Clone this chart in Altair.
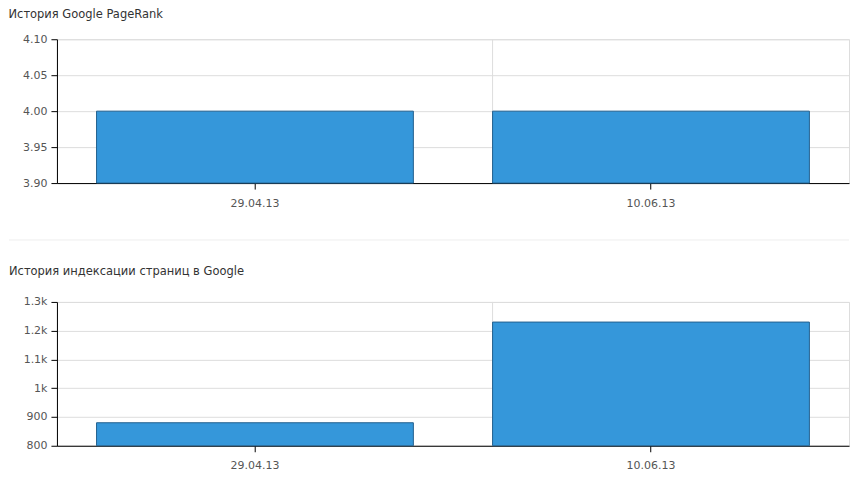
import altair as alt
import pandas as pd

dates = ["29.04.13", "10.06.13"]
pagerank = [4.0, 4.0]
pages = [880, 1230]

pr_domain = [3.9, 4.1]
pr_ticks = [3.9, 3.95, 4.0, 4.05, 4.1]
pg_domain = [800, 1300]
pg_ticks = [800, 900, 1000, 1100, 1200, 1300]

titles = ["История Google PageRank", "История индексации страниц в Google"]

FONT = "DejaVu Sans"
GRID = "#dddddd"
W = 793
H = 144

pr_label = "format(datum.value, '.2f')"
pg_label = ("datum.value >= 1000 ? format(datum.value / 1000, '.1~f') + 'k' "
            ": format(datum.value, 'd')")


def panel(values, domain, ticks, label_expr, title, separator, offset):
    df = pd.DataFrame({"date": dates, "value": values})
    xscale = alt.Scale(domain=dates, paddingInner=0.2, paddingOuter=0.1)
    xaxis = alt.Axis(
        labelAngle=0, grid=False, tickSize=6, labelPadding=8,
        minExtent=30, maxExtent=30,
    )
    vgrid = alt.Chart(df[df["date"] == dates[1]]).mark_rule(
        color=GRID, strokeWidth=1
    ).encode(
        x=alt.X("date:N", bandPosition=0, scale=xscale, sort=dates,
                title=None, axis=xaxis)
    )
    bars = alt.Chart(df).mark_bar(
        color="#3597da", stroke="#23608f", strokeWidth=1
    ).encode(
        x=alt.X("date:N", scale=xscale, sort=dates, title=None, axis=xaxis),
        y=alt.Y(
            "value:Q",
            scale=alt.Scale(domain=domain, zero=False, nice=False),
            title=None,
            axis=alt.Axis(
                values=ticks, labelExpr=label_expr, tickSize=6, labelPadding=4,
                minExtent=48, maxExtent=48, gridColor=GRID,
            ),
        ),
        y2=alt.datum(domain[0]),
    )
    layers = [vgrid, bars]
    if separator:
        sep = alt.Chart(pd.DataFrame({"s": [0]})).mark_rule(
            color="#eeeeee", strokeWidth=1
        ).encode(
            x=alt.value(-48), x2=alt.value(W), y=alt.value(201)
        )
        layers.append(sep)
    return alt.layer(*layers).properties(
        width=W,
        height=H,
        title=alt.TitleParams(
            title, anchor="start", frame="bounds", fontSize=11.5,
            font=FONT, fontWeight="normal", color="#333333", offset=offset,
        ),
    )


top = panel(pagerank, pr_domain, pr_ticks, pr_label, titles[0], True, 13)
bottom = panel(pages, pg_domain, pg_ticks, pg_label, titles[1], False, 18)

chart = alt.vconcat(top, bottom, spacing=25).properties(
    padding=0
).configure_view(
    stroke=GRID, strokeWidth=1
).configure_axis(
    labelFont=FONT, labelFontSize=11, labelColor="#555555",
    domainColor="#000000", tickColor="#000000", domainWidth=1,
).configure_concat(spacing=25)

chart.save("out.html", embed_options={"renderer": "svg", "actions": False})
